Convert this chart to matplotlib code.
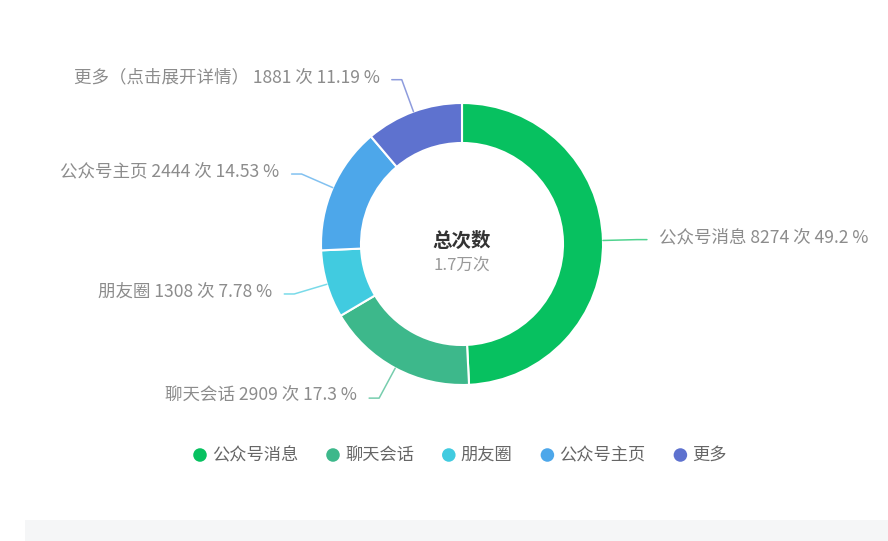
import numpy as np
import matplotlib.pyplot as plt
from matplotlib.patches import Rectangle

plt.rcParams['font.family'] = ['Noto Sans CJK SC', 'DejaVu Sans']

W, H = 888, 541

# 数据
names = ['公众号消息', '聊天会话', '朋友圈', '公众号主页', '更多']
label_names = ['公众号消息', '聊天会话', '朋友圈', '公众号主页', '更多（点击展开详情）']
counts = [8274, 2909, 1308, 2444, 1881]
colors = ['#07C160', '#3DB88B', '#41CBE0', '#4DA7EA', '#5E72CF']
center_title = '总次数'

total = sum(counts)
center_value = f'{total / 10000:.1f}万次'

fig = plt.figure(figsize=(W / 100, H / 100), dpi=100, facecolor='white')
ax = fig.add_axes([0, 0, 1, 1])

cx, cy = 462, H - 244
R, ring = 141, 40

wedges, _ = ax.pie(counts, colors=colors, startangle=90, counterclock=False,
                   center=(cx, cy), radius=R,
                   wedgeprops=dict(width=ring, edgecolor='white', linewidth=1.5))
ax.set_xlim(0, W)
ax.set_ylim(0, H)
ax.set_aspect('equal')
ax.axis('off')

# 外部标签 + 引导线
L, hor, gap = 34, 10, 12
for w, name, c, col in zip(wedges, label_names, counts, colors):
    mid = np.deg2rad((w.theta1 + w.theta2) / 2)
    dx, dy = np.cos(mid), np.sin(mid)
    p0 = (cx + R * dx, cy + R * dy)
    p1 = (cx + (R + L) * dx, cy + (R + L) * dy)
    side = 1 if dx >= 0 else -1
    p2 = (p1[0] + side * hor, p1[1])
    ax.plot([p0[0], p1[0], p2[0]], [p0[1], p1[1], p2[1]], color=col,
            linewidth=1.1, alpha=0.7, solid_capstyle='round')
    pct = round(c / total * 100, 2)
    ax.text(p2[0] + side * gap, p2[1] + 2, f'{name} {c} 次 {pct:g} %',
            ha='left' if side > 0 else 'right', va='center',
            fontsize=12.6, color='#8c8c8c')

# 中心文字
ax.text(cx, cy + 3, center_title, ha='center', va='center', fontsize=14,
        fontweight='bold', color='#333333')
ax.text(cx, cy - 22, center_value, ha='center', va='center', fontsize=12,
        color='#999999')

# 图例
lx, ly = 200, H - 455
for name, col in zip(names, colors):
    ax.scatter([lx], [ly], s=95, color=col, edgecolors='none', zorder=3)
    ax.text(lx + 12, ly, name, ha='left', va='center', fontsize=12.4,
            color='#666666')
    lx += 12 + 17.2 * len(name) + 35

# 底部灰条
ax.add_patch(Rectangle((25, 0), W - 25, 21, facecolor='#F5F6F7',
                       edgecolor='none'))

fig.savefig('out.png', dpi=100, facecolor='white')
